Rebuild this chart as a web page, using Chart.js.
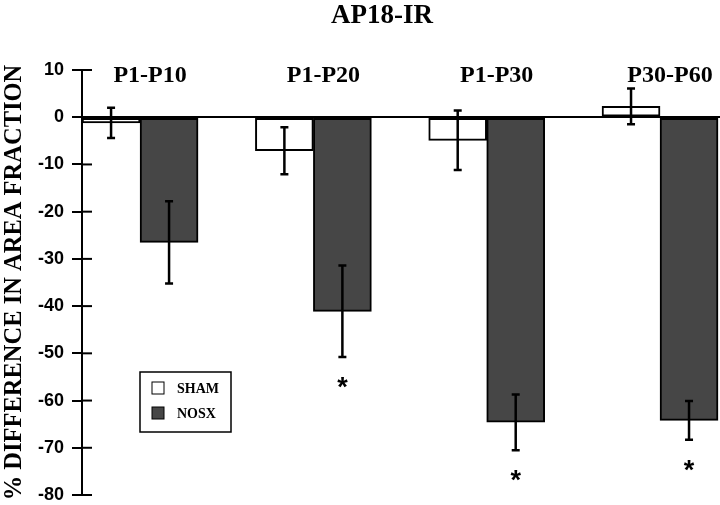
<!DOCTYPE html>
<html>
<head>
<meta charset="utf-8">
<script src="https://cdn.jsdelivr.net/npm/chart.js@4"></script>
<style>
body { margin: 0; background: #fff; }
#wrap { width: 720px; height: 505px; }
</style>
</head>
<body>
<div id="wrap"><canvas id="chart1"></canvas></div>
<script>
const ctx = document.getElementById("chart1").getContext("2d");

const title = "AP18-IR";
const categories = ["P1-P10", "P1-P20", "P1-P30", "P30-P60"];
const sham = [-1.2, -7.1, -4.9, 2.3];
const shamErr = [3.2, 5.0, 6.3, 3.8];
const nosx = [-26.5, -41.1, -64.6, -64.2];
const nosxErr = [8.7, 9.7, 5.9, 4.1];
const nosxStar = [false, true, true, true];

const serif = "'Liberation Serif', 'Times New Roman', serif";
const sans = "'Liberation Sans', Arial, sans-serif";

// error bars, inner tick halves, asterisks, labels, legend
const extras = {
    id: 'extras',
    afterDatasetsDraw(chart) {
        const c = chart.ctx;
        const y = chart.scales.y;
        const x = chart.scales.x;
        const area = chart.chartArea;
        c.save();
        c.strokeStyle = '#000';
        c.fillStyle = '#000';

        c.lineWidth = 2;
        y.ticks.forEach(t => {
            const py = y.getPixelForValue(t.value);
            c.beginPath();
            c.moveTo(area.left, py);
            c.lineTo(area.left + 10, py);
            c.stroke();
        });

        const errs = [shamErr, nosxErr];
        const stars = [null, nosxStar];
        chart.data.datasets.forEach((ds, di) => {
            const meta = chart.getDatasetMeta(di);
            meta.data.forEach((bar, i) => {
                const v = ds.data[i].y;
                const top = y.getPixelForValue(v + errs[di][i]);
                const bot = y.getPixelForValue(v - errs[di][i]);
                c.lineWidth = 2.5;
                c.beginPath();
                c.moveTo(bar.x, top); c.lineTo(bar.x, bot);
                c.moveTo(bar.x - 4, top); c.lineTo(bar.x + 4, top);
                c.moveTo(bar.x - 4, bot); c.lineTo(bar.x + 4, bot);
                c.stroke();
                if (stars[di] && stars[di][i]) {
                    c.font = "bold 27px " + sans;
                    c.textAlign = 'center';
                    c.textBaseline = 'alphabetic';
                    c.fillText('*', bar.x, bot + 39);
                }
            });
        });

        c.textAlign = 'center';
        c.textBaseline = 'alphabetic';
        c.font = "bold 24px " + serif;
        categories.forEach((cat, i) => {
            c.fillText(cat, x.getPixelForValue(i) + 10, 82);
        });

        c.font = "bold 27px " + serif;
        c.fillText(title, 382, 23);

        // legend
        const lx = area.left + 58, ly = 372;
        c.lineWidth = 1.5;
        c.strokeRect(lx, ly, 91, 60);
        c.font = "bold 14px " + serif;
        c.textAlign = 'left';
        chart.data.datasets.forEach((ds, di) => {
            const sy = ly + 10 + di * 25;
            c.fillStyle = ds.backgroundColor;
            c.fillRect(lx + 12, sy, 12, 12);
            c.lineWidth = 1;
            c.strokeRect(lx + 12, sy, 12, 12);
            c.fillStyle = '#000';
            c.fillText(ds.label, lx + 37, sy + 11);
        });
        c.restore();
    }
};

const config = {
    type: 'bar',
    data: {
        datasets: [{
            label: 'SHAM',
            data: sham.map((v, i) => ({ x: i, y: v })),
            backgroundColor: '#ffffff',
            borderColor: '#000',
            borderWidth: 2,
            borderSkipped: false,
            barThickness: 58,
        }, {
            label: 'NOSX',
            data: nosx.map((v, i) => ({ x: i, y: v })),
            backgroundColor: '#464646',
            borderColor: '#000',
            borderWidth: 2,
            borderSkipped: false,
            barThickness: 58,
        }],
    },
    options: {
        responsive: true,
        maintainAspectRatio: false,
        animation: false,
        layout: {
            padding: { top: 70, bottom: 10, left: 0, right: 0 }
        },
        scales: {
            x: {
                type: 'linear',
                display: false,
                offset: false,
                min: -0.335,
                max: 3.346,
            },
            y: {
                min: -80,
                max: 10,
                afterFit: (scale) => {
                    scale.width = 82;
                    scale.paddingTop = 0;
                    scale.paddingBottom = 0;
                },
                ticks: {
                    stepSize: 10,
                    padding: 8,
                    color: '#000',
                    font: { family: sans, size: 18, weight: 'bold' },
                },
                grid: {
                    color: (c) => c.tick && c.tick.value === 0 ? '#000' : 'rgba(0,0,0,0)',
                    tickColor: '#000',
                    tickLength: 10,
                    lineWidth: 2,
                },
                border: { display: true, color: '#000', width: 2 },
                title: {
                    display: true,
                    text: '% DIFFERENCE IN AREA FRACTION',
                    color: '#000',
                    padding: { top: 0, bottom: 0, y: 0 },
                    font: { family: serif, size: 24.5, weight: 'bold' },
                },
            }
        },
        plugins: {
            legend: { display: false },
            tooltip: { enabled: false },
        }
    },
    plugins: [extras]
};

const newChart = new Chart(ctx, config);
</script>
</body>
</html>
